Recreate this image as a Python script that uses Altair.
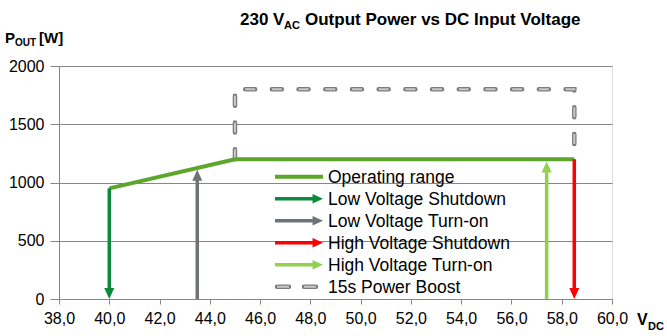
import altair as alt
import pandas as pd

# ---------------- data ----------------
op_v = [40.0, 45.0, 58.5]
op_p = [950, 1200, 1200]

boost_v = [45.0, 45.0, 58.5, 58.5]
boost_p = [1200, 1800, 1800, 1200]

arrow_names = ["Low Voltage Shutdown", "Low Voltage Turn-on",
               "High Voltage Shutdown", "High Voltage Turn-on"]
arrow_v = [40.0, 43.5, 58.5, 57.4]
arrow_from = [950, 0, 1200, 0]
arrow_to = [0, 1110, 0, 1180]
arrow_dir = ["down", "up", "down", "up"]

legend_labels = ["Operating range", "Low Voltage Shutdown", "Low Voltage Turn-on",
                 "High Voltage Shutdown", "High Voltage Turn-on", "15s Power Boost"]
legend_kind = ["line", "arrow", "arrow", "arrow", "arrow", "dash"]

x_ticks = [38.0 + 0.5 * i for i in range(45)]
y_ticks = [0, 500, 1000, 1500, 2000]

# ---------------- styles ----------------
FONT = "Liberation Sans"
OP_GREEN = "#5ea52b"
ARROW_COLORS = ["#0b8a3b", "#6e7378", "#ff0000", "#92d050"]
GRID = "#878787"
DASH_OUT = "#7c7c7c"
DASH_IN = "#c8c8c8"
OX, OY = 59, 66  # plot origin in page pixels

op_df = pd.DataFrame({"v": op_v, "p": op_p, "i": range(len(op_v))})
boost_df = pd.DataFrame({"v": boost_v, "p": boost_p, "i": range(len(boost_v))})
arr_df = pd.DataFrame({"name": arrow_names, "v": arrow_v, "p0": arrow_from,
                       "p1": arrow_to, "dir": arrow_dir})
leg_df = pd.DataFrame({"label": legend_labels, "row": range(len(legend_labels)),
                       "kind": legend_kind,
                       "name": [""] + arrow_names + [""]})

xs = alt.Scale(domain=[38, 60], nice=False, zero=False)
ys = alt.Scale(domain=[0, 2000], nice=False)
colors = alt.Scale(domain=arrow_names, range=ARROW_COLORS)
leg_y = alt.Scale(domain=[0, 5], range=[176.7 - OY, 286.7 - OY])

x_axis = alt.Axis(values=x_ticks,
                  labelExpr="datum.value % 2 == 0 ? replace(format(datum.value, '.1f'), '.', ',') : ''",
                  grid=False, tickSize=5, tickColor=GRID, domainColor=GRID,
                  labelFont=FONT, labelFontSize=16, labelColor="black",
                  labelPadding=6, title=None, labelOverlap=False, labelFlush=False)
y_axis = alt.Axis(values=y_ticks, format="d", grid=True, gridColor=GRID,
                  gridWidth=1, tickSize=9, tickColor=GRID, domainColor=GRID,
                  labelFont=FONT, labelFontSize=16, labelColor="black",
                  labelPadding=6, title=None)

X = alt.X("v:Q", scale=xs)
Y = alt.Y("p:Q", scale=ys, axis=None)

PATH_DOWN = "M0,0L-1,-2.2L1,-2.2Z"
PATH_UP = "M0,0L-1,2.2L1,2.2Z"
PATH_RIGHT = "M0,0L-2.2,-1L-2.2,1Z"

# axes/grid carrier
axes = alt.Chart(op_df).mark_line(opacity=0).encode(
    x=alt.X("v:Q", scale=xs, axis=x_axis),
    y=alt.Y("p:Q", scale=ys, axis=y_axis))

boost_out = alt.Chart(boost_df).mark_line(
    color=DASH_OUT, strokeWidth=4.5, strokeDash=[10, 16.7], strokeCap="round"
).encode(x=X, y=Y, order="i:Q")
boost_in = alt.Chart(boost_df).mark_line(
    color=DASH_IN, strokeWidth=2, strokeDash=[10, 16.7], strokeCap="butt"
).encode(x=X, y=Y, order="i:Q")

op_line = alt.Chart(op_df).mark_line(
    color=OP_GREEN, strokeWidth=4, strokeJoin="miter"
).encode(x=X, y=Y, order="i:Q")

col = alt.Color("name:N", scale=colors, legend=None)

down_rules = alt.Chart(arr_df).transform_filter("datum.dir == 'down'").mark_rule(
    strokeWidth=3.5, y2Offset=-6).encode(
    x=X, y=alt.Y("p0:Q", scale=ys, axis=None), y2="p1:Q", color=col)
up_rules = alt.Chart(arr_df).transform_filter("datum.dir == 'up'").mark_rule(
    strokeWidth=3.5, y2Offset=6).encode(
    x=X, y=alt.Y("p0:Q", scale=ys, axis=None), y2="p1:Q", color=col)
down_heads = alt.Chart(arr_df).transform_filter("datum.dir == 'down'").mark_point(
    shape=PATH_DOWN, filled=True, size=100, opacity=1, strokeWidth=0).encode(
    x=X, y=alt.Y("p1:Q", scale=ys, axis=None), color=col)
up_heads = alt.Chart(arr_df).transform_filter("datum.dir == 'up'").mark_point(
    shape=PATH_UP, filled=True, size=100, opacity=1, strokeWidth=0).encode(
    x=X, y=alt.Y("p1:Q", scale=ys, axis=None), color=col)

# ---------------- legend ----------------
LY = alt.Y("row:Q", scale=leg_y, axis=None)
leg_op = alt.Chart(leg_df).transform_filter("datum.kind == 'line'").mark_rule(
    color=OP_GREEN, strokeWidth=4).encode(
    x=alt.value(275 - OX), x2=alt.value(323 - OX), y=LY)
leg_arr = alt.Chart(leg_df).transform_filter("datum.kind == 'arrow'").mark_rule(
    strokeWidth=3.5).encode(
    x=alt.value(275 - OX), x2=alt.value(314 - OX), y=LY, color=col)
leg_head = alt.Chart(leg_df).transform_filter("datum.kind == 'arrow'").mark_point(
    shape=PATH_RIGHT, filled=True, size=90, opacity=1, strokeWidth=0).encode(
    x=alt.value(323 - OX), y=LY, color=col)
leg_dash_out = alt.Chart(leg_df).transform_filter("datum.kind == 'dash'").mark_rule(
    color=DASH_OUT, strokeWidth=4.5, strokeDash=[12, 15], strokeCap="round").encode(
    x=alt.value(277 - OX), x2=alt.value(316 - OX), y=LY)
leg_dash_in = alt.Chart(leg_df).transform_filter("datum.kind == 'dash'").mark_rule(
    color=DASH_IN, strokeWidth=2, strokeDash=[12, 15], strokeCap="butt").encode(
    x=alt.value(277 - OX), x2=alt.value(316 - OX), y=LY)
leg_text = alt.Chart(leg_df).mark_text(
    align="left", baseline="middle", font=FONT, fontSize=17.5, color="black", dy=1).encode(
    x=alt.value(328 - OX), y=LY, text="label:N")


# ---------------- titles ----------------
def txt(s, x, y, size, weight="bold", font=FONT):
    return alt.Chart(pd.DataFrame({"t": [s]})).mark_text(
        text=s, align="left", baseline="alphabetic", font=font, fontSize=size,
        fontWeight=weight, color="black").encode(x=alt.value(x - OX), y=alt.value(y - OY))


title_parts = [
    txt("230 V", 240, 25, 17),
    txt("AC", 284, 29, 11),
    txt("Output Power vs DC Input Voltage", 305, 25, 17),
    txt("P", 5, 43, 15),
    txt("OUT", 15, 46, 10),
    txt("[W]", 39, 43, 15),
    txt("V", 637, 325, 16),
    txt("DC", 648, 330, 11),
]

chart = alt.layer(
    axes, boost_out, boost_in, op_line, down_rules, up_rules, down_heads, up_heads,
    leg_op, leg_arr, leg_head, leg_dash_out, leg_dash_in, leg_text, *title_parts
).resolve_scale(y="independent").properties(
    width=553, height=233,
    padding={"left": OX, "top": OY, "right": 667 - OX - 553, "bottom": 336 - OY - 233},
    autosize=alt.AutoSizeParams(type="none"),
).configure_view(stroke=None).configure(background="white")

chart.save("out.html", embed_options={"renderer": "svg", "actions": False})
